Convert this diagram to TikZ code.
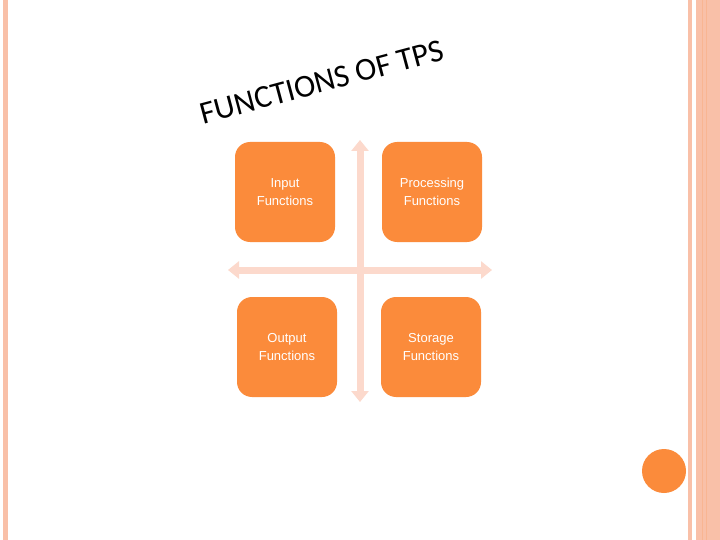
\documentclass[tikz,border=0pt]{standalone}
\usepackage{fontspec}
\setmainfont{Carlito}
\setsansfont{Liberation Sans}
\usetikzlibrary{arrows.meta}
\definecolor{org}{HTML}{FB8B3B}
\definecolor{pale}{HTML}{FCD9CC}
\definecolor{edge}{HTML}{F9C0A8}
\tikzset{fbox/.style={fill=org,rounded corners=15pt,minimum width=100pt,minimum height=100pt,text=white,font=\sffamily\fontsize{13}{18}\selectfont,align=center},
ar/.style={draw=pale,line width=7pt,{Triangle[width=17pt,length=11pt]}-{Triangle[width=17pt,length=11pt]}}}
\begin{document}
\begin{tikzpicture}[x=1pt,y=-1pt]
\useasboundingbox (0,0) rectangle (720,540);
\fill[white] (0,0) rectangle (720,540);
\fill[edge] (3,0) rectangle (8,540);
\fill[edge] (688,0) rectangle (692,540);
\fill[edge] (696,0) rectangle (720,540);
\fill[edge!80!org] (702,0) rectangle (703,540);
\fill[edge!80!org] (706,0) rectangle (707,540);
\coordinate (t) at (360,140); \coordinate (b) at (360,402);
\coordinate (l) at (228,270); \coordinate (r) at (492,270);
\draw[ar] (t) -- (b);
\draw[ar] (l) -- (r);
\node[fbox] (in) at (285,192) {Input\\Functions};
\node[fbox] (pr) at (432,192) {Processing\\Functions};
\node[fbox] (out) at (287,347) {Output\\Functions};
\node[fbox] (st) at (431,347) {Storage\\Functions};
\node[fill=org,circle,minimum size=44pt,inner sep=0] (c) at (664,471) {};
\node[rotate=15,font=\fontsize{32}{34}\selectfont] (title) at (322,82) {FUNCTIONS OF TPS};
\end{tikzpicture}
\end{document}
